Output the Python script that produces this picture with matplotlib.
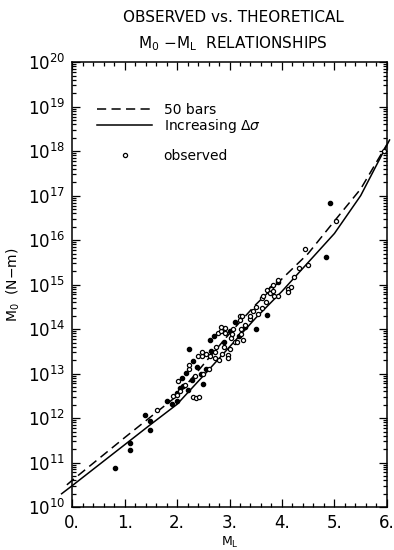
import matplotlib

matplotlib.use("Agg")
import matplotlib.pyplot as plt
import numpy as np
from matplotlib.lines import Line2D
from matplotlib.ticker import FixedLocator, FuncFormatter, LogLocator, MultipleLocator, NullFormatter

# theoretical curves, log10(M0)
curve_ml_50bars = [-0.1, 0.0, 0.5, 1.0, 1.5, 2.0, 2.5, 3.0, 3.5, 4.0, 4.5, 5.0, 5.5, 6.0]
curve_log_50bars = [10.5, 10.6, 11.08, 11.56, 12.03, 12.5, 13.2, 13.9, 14.55, 15.13, 15.7, 16.43, 17.15, 18.15]

curve_ml_increasing = [-0.2, 0.0, 0.5, 1.0, 1.5, 2.0, 2.5, 3.0, 3.5, 4.0, 4.5, 5.0, 5.5, 6.05]
curve_log_increasing = [10.3, 10.48, 10.94, 11.4, 11.86, 12.31, 12.95, 13.6, 14.25, 14.85, 15.5, 16.15, 17.0, 18.25]

# observed events, filled symbols
filled_ml = [0.81, 1.10, 1.10, 1.49, 1.49, 1.39, 1.80, 1.90, 1.99, 2.06, 2.20, 2.50,
             2.22, 2.62, 2.70, 3.10, 2.31, 1.99, 3.50, 3.71, 3.93, 4.91, 4.84, 2.45,
             2.38, 2.55, 2.90, 3.00, 3.30, 2.10, 2.65, 2.28, 2.12, 3.18, 2.18]
filled_log = [10.88, 11.45, 11.28, 11.94, 11.73, 12.06, 12.38, 12.31, 12.38, 12.68, 12.63, 12.77,
              13.55, 13.75, 13.84, 14.15, 13.28, 12.57, 14.00, 14.32, 15.07, 16.83, 15.62, 13.00,
              13.15, 13.10, 13.70, 13.95, 14.05, 12.90, 13.50, 12.85, 12.72, 13.85, 13.02]

# observed events, open symbols
open_ml = [1.61, 1.93, 1.99, 2.02, 2.31, 2.37, 2.42, 2.22, 2.22, 2.40, 2.47, 2.55,
           2.63, 2.72, 2.72, 2.80, 2.85, 2.98, 2.98, 2.78, 2.84, 2.91, 3.03, 3.05,
           3.07, 3.10, 3.20, 3.20, 3.22, 3.25, 3.15, 3.23, 3.30, 3.39, 3.40, 3.45,
           3.61, 3.61, 3.64, 3.71, 3.77, 3.80, 3.80, 3.82, 3.83, 3.93, 3.93, 4.12,
           4.12, 4.18, 4.22, 4.33, 4.44, 4.50, 5.03, 5.95, 2.50, 2.60, 2.35, 2.15,
           2.05, 2.90, 3.00, 2.75, 3.55, 3.50, 3.70, 3.85, 2.91, 2.84, 3.22, 2.47]
open_log = [12.18, 12.50, 12.51, 12.83, 12.48, 12.46, 12.48, 13.10, 13.20, 13.39, 13.39, 13.43,
            13.39, 13.35, 13.48, 13.30, 13.45, 13.42, 13.36, 13.92, 13.95, 13.92, 13.80, 13.90,
            14.00, 13.72, 14.29, 14.20, 13.90, 13.75, 13.70, 14.30, 14.10, 14.23, 14.29, 14.40,
            14.48, 14.70, 14.74, 14.89, 14.81, 14.93, 14.90, 14.85, 15.00, 15.10, 14.75, 14.91,
            14.83, 14.95, 15.17, 15.37, 15.80, 15.43, 16.42, 18.00, 13.00, 13.10, 12.95, 12.75,
            12.60, 13.60, 13.55, 13.60, 14.35, 14.50, 14.60, 14.75, 14.02, 14.04, 14.00, 13.48]

x_ticks = [0, 1, 2, 3, 4, 5, 6]
y_tick_exponents = list(range(10, 21))


def main() -> None:
    fig = plt.figure(figsize=(3.94, 5.5), dpi=100)
    ax = fig.add_axes([0.183, 0.078, 0.799, 0.809])

    ax.plot(curve_ml_50bars, 10 ** np.array(curve_log_50bars), color="black",
            lw=1.1, linestyle=(0, (6, 3.5)), clip_on=False)
    ax.plot(curve_ml_increasing, 10 ** np.array(curve_log_increasing), color="black",
            lw=1.1, clip_on=False)
    ax.plot(filled_ml, 10 ** np.array(filled_log), "o", color="black", ms=3.0)
    ax.plot(open_ml, 10 ** np.array(open_log), "o", mfc="white", mec="black",
            ms=3.0, mew=0.9)

    ax.set_yscale("log")
    ax.set_xlim(0, 6)
    ax.set_ylim(1e10, 1e20)

    ax.xaxis.set_major_locator(FixedLocator(x_ticks))
    ax.xaxis.set_minor_locator(MultipleLocator(0.2))
    ax.xaxis.set_major_formatter(FuncFormatter(lambda v, pos: f"{v:.0f}."))
    ax.yaxis.set_major_locator(FixedLocator([10.0 ** e for e in y_tick_exponents]))
    ax.yaxis.set_major_formatter(
        FuncFormatter(lambda v, pos: rf"$10^{{{int(round(np.log10(v)))}}}$"))
    ax.yaxis.set_minor_locator(LogLocator(base=10, subs=np.arange(2, 10), numticks=20))
    ax.yaxis.set_minor_formatter(NullFormatter())

    ax.tick_params(which="both", direction="in", top=True, right=True, width=0.9)
    ax.tick_params(which="major", length=6, labelsize=12, pad=5)
    ax.tick_params(which="minor", length=3)
    for spine in ax.spines.values():
        spine.set_linewidth(1.1)

    ax.set_xlabel(r"M$_\mathrm{L}$", fontsize=9, labelpad=2)
    ax.set_ylabel(r"M$_0$  (N$-$m)", fontsize=10, labelpad=4)

    handles = [
        Line2D([], [], color="black", lw=1.1, linestyle=(0, (6, 3.5))),
        Line2D([], [], color="black", lw=1.1),
        Line2D([], [], linestyle="none"),
        Line2D([], [], linestyle="none", marker="o", mfc="white", mec="black", ms=3.0, mew=0.9),
    ]
    labels = ["50 bars", r"Increasing $\Delta\sigma$", " ", "observed"]
    ax.legend(handles, labels, loc="upper left", bbox_to_anchor=(0.048, 0.93),
              frameon=False, fontsize=10, handlelength=4.0, handletextpad=0.8,
              labelspacing=0.0, borderaxespad=0.3)

    fig.text(0.592, 0.969, "OBSERVED vs. THEORETICAL", ha="center", va="center", fontsize=11)
    fig.text(0.592, 0.92, r"M$_0$ $-$M$_\mathrm{L}$  RELATIONSHIPS", ha="center",
             va="center", fontsize=11)

    fig.savefig("out.png", dpi=100)
    plt.close(fig)


if __name__ == "__main__":
    main()
